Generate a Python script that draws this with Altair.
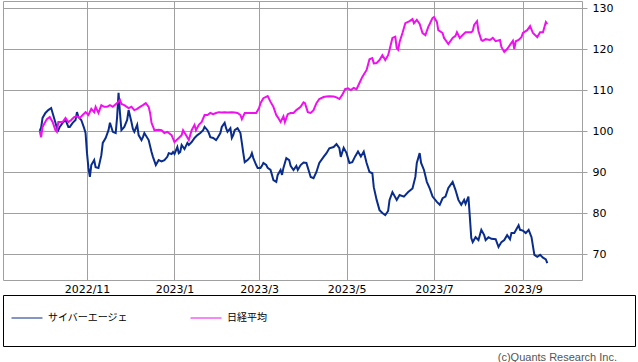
import altair as alt
import pandas as pd

# ---- data (indexed, start = 100) ----
cyber_dates = [
    "2022-09-29", "2022-09-30", "2022-10-01", "2022-10-03", "2022-10-05", "2022-10-07", "2022-10-08",
    "2022-10-10", "2022-10-11", "2022-10-12", "2022-10-13", "2022-10-15", "2022-10-17", "2022-10-19",
    "2022-10-20", "2022-10-22", "2022-10-24", "2022-10-25", "2022-10-26", "2022-10-28", "2022-10-30",
    "2022-10-31", "2022-11-01", "2022-11-02", "2022-11-03", "2022-11-04", "2022-11-06", "2022-11-07",
    "2022-11-09", "2022-11-11", "2022-11-12", "2022-11-14", "2022-11-16", "2022-11-17", "2022-11-19",
    "2022-11-21", "2022-11-22", "2022-11-23", "2022-11-24", "2022-11-25", "2022-11-27", "2022-11-29",
    "2022-11-30", "2022-12-02", "2022-12-03", "2022-12-04", "2022-12-06", "2022-12-07", "2022-12-09",
    "2022-12-10", "2022-12-11", "2022-12-14", "2022-12-16", "2022-12-17", "2022-12-19", "2022-12-21",
    "2022-12-23", "2022-12-25", "2022-12-27", "2022-12-28", "2022-12-30", "2022-12-31", "2023-01-01",
    "2023-01-03", "2023-01-04", "2023-01-05", "2023-01-06", "2023-01-08", "2023-01-10", "2023-01-11",
    "2023-01-13", "2023-01-15", "2023-01-17", "2023-01-19", "2023-01-21", "2023-01-22", "2023-01-24",
    "2023-01-25", "2023-01-26", "2023-01-28", "2023-01-30", "2023-01-31", "2023-02-02", "2023-02-03",
    "2023-02-05", "2023-02-06", "2023-02-07", "2023-02-09", "2023-02-10", "2023-02-11", "2023-02-12",
    "2023-02-14", "2023-02-16", "2023-02-17", "2023-02-18", "2023-02-19", "2023-02-21", "2023-02-23",
    "2023-02-24", "2023-02-25", "2023-02-27", "2023-02-28", "2023-03-02", "2023-03-03", "2023-03-04",
    "2023-03-06", "2023-03-07", "2023-03-09", "2023-03-10", "2023-03-11", "2023-03-13", "2023-03-14",
    "2023-03-16", "2023-03-17", "2023-03-18", "2023-03-19", "2023-03-20", "2023-03-22", "2023-03-23",
    "2023-03-25", "2023-03-27", "2023-03-28", "2023-03-30", "2023-04-01", "2023-04-03", "2023-04-06",
    "2023-04-08", "2023-04-10", "2023-04-12", "2023-04-15", "2023-04-17", "2023-04-19", "2023-04-22",
    "2023-04-24", "2023-04-26", "2023-04-27", "2023-04-29", "2023-05-01", "2023-05-03", "2023-05-05",
    "2023-05-07", "2023-05-09", "2023-05-11", "2023-05-13", "2023-05-15", "2023-05-17", "2023-05-19",
    "2023-05-20", "2023-05-22", "2023-05-24", "2023-05-26", "2023-05-28", "2023-05-30", "2023-05-31",
    "2023-06-02", "2023-06-05", "2023-06-07", "2023-06-10", "2023-06-13", "2023-06-16", "2023-06-18",
    "2023-06-19", "2023-06-21", "2023-06-22", "2023-06-24", "2023-06-26", "2023-06-28", "2023-06-30",
    "2023-07-03", "2023-07-05", "2023-07-07", "2023-07-09", "2023-07-11", "2023-07-14", "2023-07-16",
    "2023-07-18", "2023-07-20", "2023-07-22", "2023-07-23", "2023-07-25", "2023-07-26", "2023-07-27",
    "2023-07-28", "2023-07-30", "2023-08-01", "2023-08-03", "2023-08-05", "2023-08-06", "2023-08-08",
    "2023-08-10", "2023-08-13", "2023-08-15", "2023-08-17", "2023-08-19", "2023-08-21", "2023-08-23",
    "2023-08-24", "2023-08-26", "2023-08-29", "2023-08-30", "2023-09-01", "2023-09-03", "2023-09-05",
    "2023-09-07", "2023-09-09", "2023-09-11", "2023-09-13", "2023-09-15", "2023-09-17", "2023-09-18",
]
cyber_values = [
    100.0, 100.8, 103.2, 104.4, 105.1, 105.6, 104.4,
    102.0, 100.7, 100.2, 101.0, 102.0, 102.7, 101.0,
    101.0, 102.0, 102.7, 104.6, 103.4, 102.7, 100.7,
    99.5, 94.6, 91.0, 88.8, 91.7, 92.9, 91.2,
    91.0, 94.1, 97.1, 98.3, 100.2, 102.0, 99.8,
    99.5, 103.4, 109.3, 104.4, 100.2, 101.0, 102.7,
    105.1, 102.2, 100.5, 99.8, 101.5, 99.0, 97.8,
    98.5, 99.5, 97.8, 94.9, 93.7, 91.7, 92.9,
    92.6, 92.9, 93.7, 94.6, 94.4, 94.9, 94.4,
    96.1, 94.6, 94.9, 96.6, 95.6, 97.1, 96.6,
    97.3, 98.3, 99.0, 99.5, 100.2, 101.0, 100.2,
    99.5, 98.5, 98.3, 97.8, 98.3, 99.5, 101.0,
    102.0, 100.7, 99.8, 100.7, 98.3, 99.0, 100.2,
    100.7, 99.5, 97.1, 94.6, 92.4, 92.9, 93.7,
    94.6, 93.4, 91.7, 91.0, 91.0, 91.5, 92.2,
    91.7, 91.0, 90.5, 89.3, 88.0, 87.6, 89.3,
    90.5, 89.3, 91.0, 92.2, 93.4, 92.9, 91.5,
    90.5, 91.5, 90.5, 91.7, 92.3, 92.2, 88.8,
    88.5, 90.0, 92.2, 93.7, 94.6, 95.8, 96.1,
    96.8, 95.8, 93.7, 95.9, 94.6, 92.2, 92.4,
    93.8, 95.0, 93.8, 95.0, 92.2, 90.0, 89.7,
    86.3, 83.2, 80.7, 80.0, 79.5, 80.5, 83.2,
    85.1, 83.2, 84.4, 84.0, 85.1, 86.0, 88.8,
    92.2, 94.6, 92.2, 90.5, 87.6, 86.0, 84.0,
    82.7, 82.0, 83.6, 84.0, 86.1, 87.6, 85.6,
    83.2, 82.0, 83.2, 82.2, 84.0, 79.0, 73.9,
    72.9, 74.1, 73.4, 75.9, 74.6, 73.4, 74.1,
    73.7, 73.6, 71.7, 72.9, 73.4, 74.6, 73.6,
    75.1, 75.1, 77.0, 75.9, 75.7, 75.1, 75.9,
    74.1, 69.8, 69.3, 69.8, 69.1, 68.7, 67.8,
]

nikkei_dates = [
    "2022-09-29", "2022-09-30", "2022-10-01", "2022-10-04", "2022-10-06", "2022-10-08", "2022-10-10",
    "2022-10-11", "2022-10-12", "2022-10-15", "2022-10-17", "2022-10-19", "2022-10-21", "2022-10-23",
    "2022-10-25", "2022-10-27", "2022-10-29", "2022-10-31", "2022-11-02", "2022-11-04", "2022-11-06",
    "2022-11-07", "2022-11-09", "2022-11-11", "2022-11-13", "2022-11-15", "2022-11-17", "2022-11-19",
    "2022-11-22", "2022-11-24", "2022-11-25", "2022-11-27", "2022-11-30", "2022-12-02", "2022-12-04",
    "2022-12-06", "2022-12-08", "2022-12-10", "2022-12-12", "2022-12-14", "2022-12-15", "2022-12-16",
    "2022-12-18", "2022-12-21", "2022-12-23", "2022-12-25", "2022-12-27", "2022-12-30", "2023-01-01",
    "2023-01-04", "2023-01-06", "2023-01-07", "2023-01-09", "2023-01-11", "2023-01-13", "2023-01-15",
    "2023-01-16", "2023-01-18", "2023-01-20", "2023-01-22", "2023-01-24", "2023-01-26", "2023-01-28",
    "2023-01-30", "2023-02-01", "2023-02-03", "2023-02-05", "2023-02-07", "2023-02-10", "2023-02-12",
    "2023-02-14", "2023-02-16", "2023-02-17", "2023-02-19", "2023-02-21", "2023-02-24", "2023-02-27",
    "2023-03-01", "2023-03-02", "2023-03-04", "2023-03-07", "2023-03-09", "2023-03-11", "2023-03-13",
    "2023-03-14", "2023-03-16", "2023-03-18", "2023-03-19", "2023-03-21", "2023-03-23", "2023-03-25",
    "2023-03-27", "2023-03-30", "2023-04-01", "2023-04-02", "2023-04-04", "2023-04-06", "2023-04-08",
    "2023-04-10", "2023-04-12", "2023-04-15", "2023-04-17", "2023-04-19", "2023-04-22", "2023-04-24",
    "2023-04-26", "2023-04-28", "2023-04-30", "2023-05-02", "2023-05-04", "2023-05-06", "2023-05-08",
    "2023-05-10", "2023-05-12", "2023-05-15", "2023-05-17", "2023-05-19", "2023-05-20", "2023-05-22",
    "2023-05-24", "2023-05-26", "2023-05-28", "2023-05-30", "2023-05-31", "2023-06-02", "2023-06-04",
    "2023-06-05", "2023-06-06", "2023-06-07", "2023-06-09", "2023-06-11", "2023-06-14", "2023-06-16",
    "2023-06-17", "2023-06-19", "2023-06-21", "2023-06-23", "2023-06-25", "2023-06-27", "2023-06-28",
    "2023-06-30", "2023-07-01", "2023-07-03", "2023-07-04", "2023-07-07", "2023-07-08", "2023-07-10",
    "2023-07-11", "2023-07-14", "2023-07-16", "2023-07-17", "2023-07-19", "2023-07-21", "2023-07-23",
    "2023-07-27", "2023-07-28", "2023-07-29", "2023-07-31", "2023-08-01", "2023-08-03", "2023-08-04",
    "2023-08-06", "2023-08-09", "2023-08-11", "2023-08-13", "2023-08-16", "2023-08-17", "2023-08-19",
    "2023-08-21", "2023-08-24", "2023-08-25", "2023-08-26", "2023-08-27", "2023-08-29", "2023-08-31",
    "2023-09-01", "2023-09-04", "2023-09-06", "2023-09-08", "2023-09-11", "2023-09-13", "2023-09-15",
    "2023-09-17", "2023-09-18",
]
nikkei_values = [
    100.0, 98.5, 101.0, 102.9, 103.4, 102.2, 100.2,
    99.8, 102.2, 102.2, 103.2, 102.2, 102.7, 103.4,
    103.6, 103.2, 103.9, 104.6, 103.9, 105.4, 104.6,
    105.9, 104.4, 106.3, 105.9, 105.9, 106.3, 105.9,
    106.8, 107.6, 106.6, 106.3, 105.6, 105.9, 105.1,
    105.4, 105.9, 106.3, 106.8, 105.9, 104.4, 102.0,
    100.2, 100.3, 100.2, 99.5, 99.8, 99.0, 97.3,
    98.3, 99.0, 100.2, 99.0, 97.8, 100.2, 101.5,
    100.2, 101.5, 102.2, 103.9, 103.9, 104.4, 104.1,
    104.4, 104.6, 104.5, 104.6, 104.5, 104.6, 104.5,
    104.4, 103.9, 102.9, 104.4, 104.4, 104.4, 104.4,
    105.6, 106.8, 108.0, 108.5, 107.1, 105.9, 103.9,
    103.4, 102.2, 103.6, 102.2, 104.1, 104.4, 104.4,
    105.1, 105.9, 107.0, 106.8, 104.6, 104.4, 105.1,
    106.8, 107.8, 108.3, 108.4, 108.5, 108.4, 108.2,
    107.8, 108.8, 110.2, 110.4, 110.0, 110.5, 110.2,
    111.7, 113.2, 114.9, 117.5, 117.8, 116.5, 116.6,
    117.3, 118.5, 117.3, 118.5, 119.8, 122.7, 123.0,
    120.2, 119.8, 121.7, 123.9, 126.3, 126.8, 127.3,
    126.3, 127.1, 126.1, 123.9, 123.4, 125.4, 126.1,
    127.6, 127.8, 126.6, 124.6, 123.9, 122.7, 121.7,
    121.2, 122.7, 123.2, 124.1, 122.7, 123.4, 124.1,
    124.1, 124.4, 125.9, 126.8, 124.4, 122.2, 122.0,
    122.4, 122.2, 122.7, 121.9, 122.2, 120.5, 119.3,
    120.0, 121.5, 122.0, 120.0, 121.9, 122.2, 122.9,
    123.9, 124.6, 125.6, 123.9, 122.9, 124.1, 124.1,
    126.6, 126.1,
]

series_names = ["サイバーエージェ", "日経平均"]
series_colors = ["#0a2d8c", "#ee11ee"]
y_ticks = [70, 80, 90, 100, 110, 120, 130]
x_tick_months = [(2022, 11), (2023, 1), (2023, 3), (2023, 5), (2023, 7), (2023, 9)]
footer_text = "(c)Quants Research Inc."

df = pd.concat([
    pd.DataFrame({"date": cyber_dates, "value": cyber_values, "series": series_names[0]}),
    pd.DataFrame({"date": nikkei_dates, "value": nikkei_values, "series": series_names[1]}),
])

GRID = "#a0a0a0"

x_enc = alt.X(
    "date:T",
    scale=alt.Scale(
        type="utc",
        domain=[
            alt.DateTime(year=2022, month=9, date=3, hours=10, utc=True),
            alt.DateTime(year=2023, month=10, date=12, hours=5, utc=True),
        ],
    ),
    axis=alt.Axis(
        values=[alt.DateTime(year=y, month=m, date=1, utc=True) for y, m in x_tick_months],
        labelExpr="utcFormat(datum.value, '%Y/%-m')",
        grid=True, gridColor=GRID, gridOpacity=1,
        ticks=False, tickSize=0, domain=False,
        labelFont="DejaVu Sans", labelFontSize=11, labelColor="#000000",
        labelPadding=3, labelAngle=0, title=None,
    ),
)

y_enc = alt.Y(
    "value:Q",
    scale=alt.Scale(domain=[63.66, 131.71], nice=False, zero=False),
    axis=alt.Axis(
        orient="right", values=y_ticks,
        grid=True, gridColor=GRID, gridOpacity=1,
        ticks=True, tickSize=5, tickColor=GRID, domain=False,
        labelFont="DejaVu Sans", labelFontSize=11, labelColor="#000000",
        labelPadding=5, title=None,
    ),
)

lines = alt.Chart(df).mark_line(strokeWidth=2, clip=True).encode(
    x=x_enc,
    y=y_enc,
    color=alt.Color(
        "series:N",
        scale=alt.Scale(domain=series_names, range=series_colors),
        legend=alt.Legend(
            orient="none", legendX=8, legendY=301, direction="horizontal",
            title=None, symbolType="stroke", symbolSize=961, symbolStrokeWidth=1,
            labelFont="Noto Sans CJK JP", labelFontSize=10, labelColor="#000000",
            labelOffset=5, columnPadding=60, gridAlign="all", padding=0,
        ),
    ),
    order=alt.Order("series:N"),
)

box = alt.Chart(pd.DataFrame({"k": [0]})).mark_rect(
    fill="transparent", stroke="#000000", strokeWidth=1
).encode(
    x=alt.value(0.5), x2=alt.value(632.5), y=alt.value(294.5), y2=alt.value(345.5)
)

footer = alt.Chart(pd.DataFrame({"t": [footer_text]})).mark_text(
    align="right", baseline="alphabetic", font="Liberation Sans", fontSize=11, color="#555555"
).encode(
    text="t:N", x=alt.value(614), y=alt.value(360)
)

chart = alt.layer(lines, box, footer).properties(
    width=579, height=279,
    padding={"left": 3, "top": 1, "right": 56, "bottom": 82},
    autosize=alt.AutoSizeParams(type="none"),
    background="#ffffff",
).configure_view(stroke=GRID, strokeWidth=1)

chart.save("out.html", embed_options={"renderer": "svg", "actions": False})
